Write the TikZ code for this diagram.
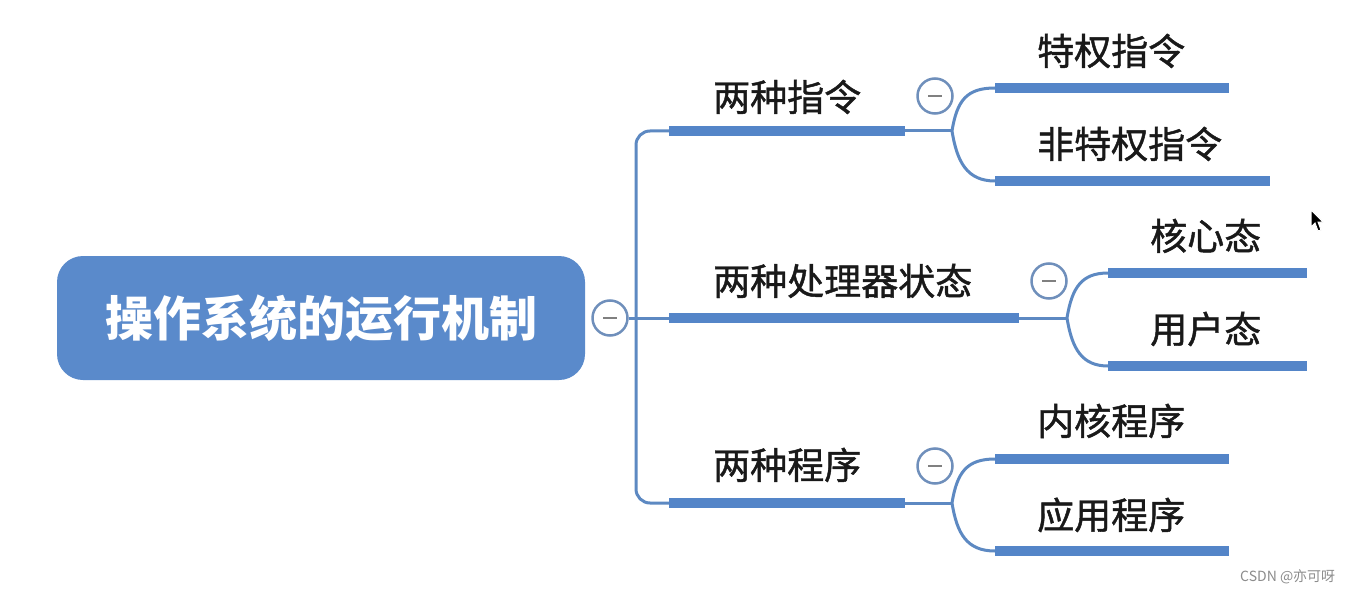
\documentclass[tikz,border=0pt]{standalone}
\usepackage{fontspec}
\newfontfamily\cjk{Noto Sans CJK SC}
\newfontfamily\cjkm[FakeBold=1.2]{Noto Sans CJK SC}
\definecolor{barblue}{HTML}{5485C8}
\definecolor{lineblue}{HTML}{5D89C2}
\definecolor{rootblue}{HTML}{5A8ACB}
\definecolor{circblue}{HTML}{6F8FBB}
\begin{document}
\begin{tikzpicture}[x=1pt,y=-1pt,
  bar/.style={line width=10pt, draw=barblue, line cap=butt},
  link/.style={line width=3pt, draw=lineblue},
  lbl/.style={font=\cjkm\fontsize{37}{40}\selectfont, anchor=base west, inner sep=0pt, text=black!90},
  fold/.style={circle, draw=circblue, line width=2.5pt, fill=white, minimum size=35pt, inner sep=0pt},
  minus/.style={line width=2.2pt, draw=black!50},
]
\useasboundingbox (0,0) rectangle (1354,591);
\fill[white] (0,0) rectangle (1354,591);

% root
\node[fill=rootblue, rounded corners=26pt, minimum width=528pt, minimum height=124pt, inner sep=0pt,
  text=white, font=\cjk\bfseries\fontsize{48}{50}\selectfont] (root) at (321,318) {操作系统的运行机制};

% coordinates
\coordinate (b1s) at (669,131); \coordinate (b1e) at (905,131); \coordinate (s1) at (952,131);
\coordinate (b2s) at (669,318); \coordinate (b2e) at (1019,318); \coordinate (s2) at (1067,318);
\coordinate (b3s) at (669,503); \coordinate (b3e) at (905,503); \coordinate (s3) at (952,503);
\coordinate (c11s) at (995,88);  \coordinate (c11e) at (1229,88);
\coordinate (c12s) at (995,181); \coordinate (c12e) at (1270,181);
\coordinate (c21s) at (1108,273); \coordinate (c21e) at (1307,273);
\coordinate (c22s) at (1108,366); \coordinate (c22e) at (1307,366);
\coordinate (c31s) at (995,459); \coordinate (c31e) at (1229,459);
\coordinate (c32s) at (995,551); \coordinate (c32e) at (1229,551);

% trunk
\node[fold] (f0) at (610,318) {};
\draw[link, rounded corners=14pt] (b1s) -| (636,318) |- (b3s);
\draw[link] (f0.east) -- (b2s);
\draw[minus] ([xshift=-7pt]f0.center) -- ([xshift=7pt]f0.center);

% level-1 bars
\draw[bar] (b1s) -- (b1e);
\draw[bar] (b2s) -- (b2e);
\draw[bar] (b3s) -- (b3e);
\draw[link] (b1e) -- (s1);
\draw[link] (b2e) -- (s2);
\draw[link] (b3e) -- (s3);

% splits
\draw[link] (s1) .. controls (957,100) and (967,88) .. (c11s);
\draw[link] (s1) .. controls (957,162) and (967,181) .. (c12s);
\draw[link] (s2) .. controls (1072,287) and (1082,273) .. (c21s);
\draw[link] (s2) .. controls (1072,349) and (1082,366) .. (c22s);
\draw[link] (s3) .. controls (957,472) and (967,459) .. (c31s);
\draw[link] (s3) .. controls (957,534) and (967,551) .. (c32s);

% level-2 bars
\draw[bar] (c11s) -- (c11e);
\draw[bar] (c12s) -- (c12e);
\draw[bar] (c21s) -- (c21e);
\draw[bar] (c22s) -- (c22e);
\draw[bar] (c31s) -- (c31e);
\draw[bar] (c32s) -- (c32e);

% fold circles
\node[fold] (f1) at (935,96) {};
\draw[minus] ([xshift=-7pt]f1.center) -- ([xshift=7pt]f1.center);
\node[fold] (f2) at (1049,281) {};
\draw[minus] ([xshift=-7pt]f2.center) -- ([xshift=7pt]f2.center);
\node[fold] (f3) at (935,466) {};
\draw[minus] ([xshift=-7pt]f3.center) -- ([xshift=7pt]f3.center);

% labels
\node[lbl] (t1) at (713,111) {两种指令};
\node[lbl] (t2) at (713,295) {两种处理器状态};
\node[lbl] (t3) at (713,479) {两种程序};
\node[lbl] (t11) at (1037,65) {特权指令};
\node[lbl] (t12) at (1037,158) {非特权指令};
\node[lbl] (t21) at (1150,250) {核心态};
\node[lbl] (t22) at (1150,343) {用户态};
\node[lbl] (t31) at (1037,435) {内核程序};
\node[lbl] (t32) at (1037,529) {应用程序};

% watermark
\node[anchor=base west, inner sep=0pt, text=black!45, font=\cjk\fontsize{14}{16}\selectfont] (wm) at (1240,581) {CSDN @亦可呀};

% mouse cursor
\fill[black, draw=white, line width=1pt] (1311,210) -- (1311,227) -- (1315,223) -- (1318,231) -- (1321,230) -- (1318,222) -- (1323,222) -- cycle;
\end{tikzpicture}
\end{document}
